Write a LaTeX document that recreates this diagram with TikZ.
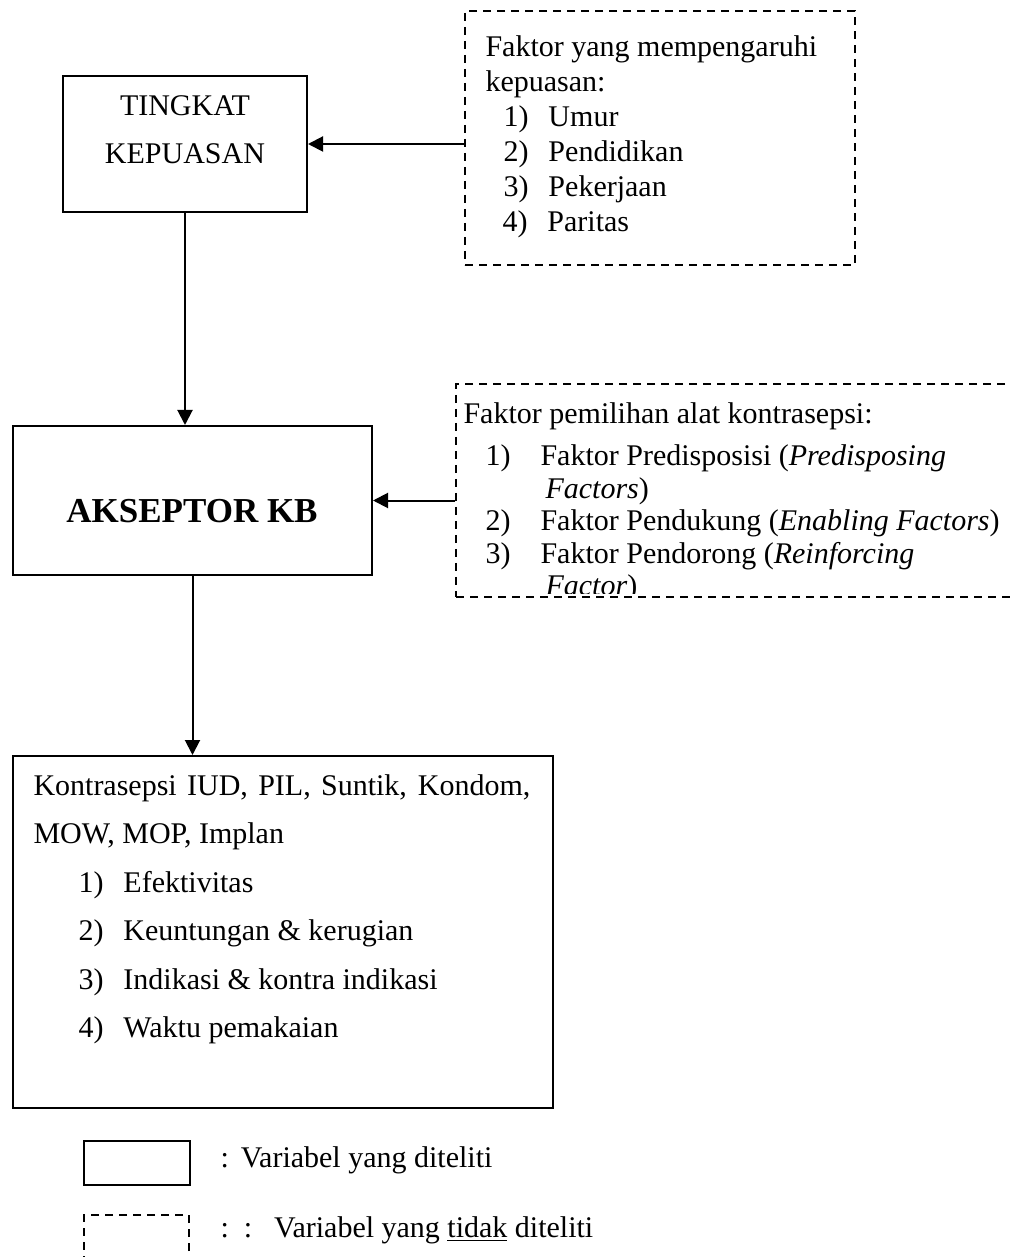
\documentclass[tikz,border=0pt]{standalone}
\usepackage{fontspec}
\setmainfont{Liberation Serif}
\usetikzlibrary{arrows.meta}
\newcommand{\numitem}[3]{\hspace*{#1}\makebox[#2][l]{#3}}

\begin{document}
\begin{tikzpicture}[x=0.4pt,y=-0.4pt,>={Triangle[length=6pt,width=6pt]},
    solidbox/.style={draw,line width=0.8pt,inner sep=0pt},
    dashbox/.style={draw,line width=0.6pt,dash pattern=on 3.2pt off 2.4pt,inner sep=0pt},
    txt/.style={inner sep=0pt,align=left,font=\fontsize{12pt}{#1}\selectfont},
    txt/.default=14pt]
  \useasboundingbox (0,0) rectangle (1010,1257);
  \clip (0,0) rectangle (1010,1257);
  % boxes
  \node[solidbox,minimum width=97.6pt,minimum height=54.4pt] (tingkat) at (185,144) {};
  \node[dashbox,minimum width=156pt,minimum height=101.6pt] (faktor1) at (660,138) {};
  \node[solidbox,minimum width=143.6pt,minimum height=59.6pt] (akseptor) at (192.5,500.5) {};
  \node[dashbox,minimum width=229.6pt,minimum height=85.2pt] (faktor2) at (743,490.5) {};
  \node[solidbox,minimum width=216pt,minimum height=140.8pt] (kontra) at (283,932) {};
  % texts
  \node[txt=19.2pt,align=center,anchor=north] (tingkattxt) at (185,95) {TINGKAT\\KEPUASAN};
  \node[txt=14pt,anchor=north west] (faktor1txt) at (485,35) {Faktor yang mempengaruhi\\kepuasan:\\
    \numitem{7.2pt}{18pt}{1)}Umur\\
    \numitem{7.2pt}{18pt}{2)}Pendidikan\\
    \numitem{7.2pt}{18pt}{3)}Pekerjaan\\
    \numitem{6.8pt}{18pt}{4)}Paritas};
  \node[inner sep=0pt,font=\fontsize{14pt}{16pt}\selectfont\bfseries] (akseptortxt) at (192,511) {AKSEPTOR KB};
  \begin{scope}
    \clip (456,384) rectangle (1030,593);
    \node[txt=13pt,anchor=north west] (faktor2txt) at (463,402) {Faktor pemilihan alat kontrasepsi:\\[4pt]
      \numitem{8.8pt}{22pt}{1)}Faktor Predisposisi (\textit{Predisposing}\\
      \hspace*{32.8pt}\textit{Factors})\\
      \numitem{8.8pt}{22pt}{2)}Faktor Pendukung (\textit{Enabling Factors})\\
      \numitem{8.8pt}{22pt}{3)}Faktor Pendorong (\textit{Reinforcing}\\
      \hspace*{32.8pt}\textit{Factor})};
  \end{scope}
  \node[txt=19.4pt,anchor=north west] (kontratxt) at (33,774) {\makebox[198.8pt][s]{Kontrasepsi IUD, PIL, Suntik, Kondom,}\\
    MOW, MOP, Implan\\
    \numitem{18pt}{18pt}{1)}Efektivitas\\
    \numitem{18pt}{18pt}{2)}Keuntungan \& kerugian\\
    \numitem{18pt}{18pt}{3)}Indikasi \& kontra indikasi\\
    \numitem{18pt}{18pt}{4)}Waktu pemakaian};
  % arrows
  \draw[->,line width=0.8pt] (faktor1.west |- tingkat.east) -- (tingkat.east);
  \draw[->,line width=0.8pt] (tingkat.south) -- (tingkat.south |- akseptor.north);
  \draw[->,line width=0.8pt] (faktor2.west |- akseptor.east) -- (akseptor.east);
  \draw[->,line width=0.8pt] (akseptor.south) -- (akseptor.south |- kontra.north);
  % legend
  \node[solidbox,minimum width=42.4pt,minimum height=17.6pt] (legsolid) at (137,1163) {};
  \node[dashbox,minimum width=42pt,minimum height=34pt] (legdash) at (136.5,1257.5) {};
  \node[txt,anchor=base west] (legsolidtxt) at (220,1167) {:\hspace{4.8pt}Variabel yang diteliti};
  \node[txt,anchor=base west] (legdashtxt) at (220,1237) {:\hspace{6pt}:\hspace{8.8pt}Variabel yang \underline{tidak} diteliti};
\end{tikzpicture}
\end{document}
